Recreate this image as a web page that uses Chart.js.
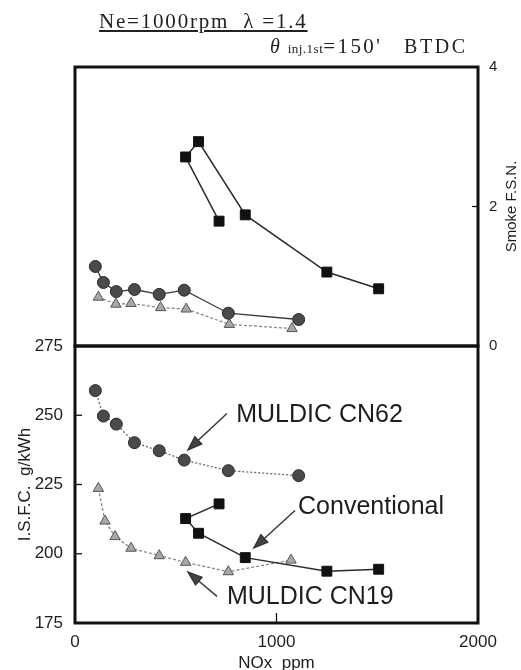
<!DOCTYPE html>
<html>
<head>
<meta charset="utf-8">
<script src="https://cdn.jsdelivr.net/npm/chart.js@4.4.1/dist/chart.umd.min.js"></script>
<style>
body{margin:0;background:#fff;}
#wrap{position:relative;width:521px;height:670px;overflow:hidden;background:#fff;}
#wrap canvas{position:absolute;left:0;top:0;}
.t{position:absolute;font-family:"Liberation Serif","DejaVu Serif",serif;color:#222;white-space:nowrap;}
</style>
</head>
<body>
<div id="wrap">
<canvas id="isfcChart" width="521" height="670"></canvas>
<canvas id="smokeChart" width="521" height="670"></canvas>
<div class="t" style="left:99px;top:9px;font-size:21px;letter-spacing:1.8px;text-decoration:underline;">Ne=1000rpm&nbsp;&nbsp;λ&nbsp;=1.4</div>
<div class="t" style="left:270px;top:34px;font-size:20px;letter-spacing:1.4px;"><i>θ</i>&nbsp;<span style="font-size:13px;letter-spacing:0.5px">inj.1st</span><span style="font-size:21px;letter-spacing:2.4px">=150</span>'<span style="letter-spacing:2.6px">&nbsp;&nbsp;&nbsp;BTDC</span></div>
</div>
<script>
(function () {

/* ---- data ---- */

// Conventional (same operating points in both panels)
const noxConv   = [715, 549, 613, 845, 1250, 1507];
const smokeConv = [1.79, 2.71, 2.93, 1.88, 1.06, 0.82];
const isfcConv  = [218.0, 212.7, 207.4, 198.6, 193.7, 194.4];

// MULDIC CN62
const noxCN62   = [101, 141, 205, 295, 418, 542, 761, 1110];
const smokeCN62 = [1.14, 0.91, 0.78, 0.81, 0.74, 0.80, 0.47, 0.38];
const isfcCN62  = [258.9, 249.7, 246.8, 240.1, 237.2, 233.8, 230.0, 228.2];

// MULDIC CN19
const noxCN19s  = [116, 203, 278, 425, 552, 766, 1077];
const smokeCN19 = [0.70, 0.60, 0.61, 0.55, 0.53, 0.31, 0.25];
const noxCN19   = [116, 149, 199, 278, 418, 549, 761, 1072];
const isfcCN19  = [223.6, 211.8, 206.2, 202.0, 199.3, 196.9, 193.5, 197.7];

const xTicks     = [0, 1000, 2000];
const smokeTicks = [0, 2, 4];
const isfcTicks  = [175, 200, 225, 250, 275];

function pts(xs, ys) {
  return xs.map((x, i) => ({x: x, y: ys[i]}));
}

const SANS = '"Liberation Sans", Arial, Helvetica, sans-serif';
const INK = '#1e1e1e';

/* ---- frame + inward tick marks ---- */

const frame = {
  id: 'frame',
  afterDraw(chart, args, opts) {
    const {ctx, chartArea: a, scales} = chart;
    ctx.save();
    ctx.strokeStyle = '#111';
    ctx.lineWidth = 3;
    ctx.strokeRect(a.left, a.top, a.right - a.left, a.bottom - a.top);
    ctx.lineWidth = 1.3;
    (opts.marks || []).forEach(m => {
      const s = scales[m.axis];
      m.values.forEach(v => {
        const p = s.getPixelForValue(v);
        ctx.beginPath();
        if (m.side === 'left') { ctx.moveTo(a.left, p); ctx.lineTo(a.left + m.len, p); }
        if (m.side === 'right') { ctx.moveTo(a.right, p); ctx.lineTo(a.right - m.len, p); }
        if (m.side === 'bottom') { ctx.moveTo(p, a.bottom); ctx.lineTo(p, a.bottom - m.len); }
        ctx.stroke();
      });
    });
    if (opts.rightTitle) {
      ctx.translate(opts.rightTitle.x, (a.top + a.bottom) / 2);
      ctx.rotate(-Math.PI / 2);
      ctx.font = '15px ' + SANS;
      ctx.fillStyle = INK;
      ctx.textAlign = 'center';
      ctx.textBaseline = 'middle';
      ctx.fillText(opts.rightTitle.text, 0, 0);
    }
    ctx.restore();
  }
};

/* ---- labels with arrows in the ISFC panel ---- */

const callouts = {
  id: 'callouts',
  afterDatasetsDraw(chart, args, opts) {
    const {ctx, scales: {x, y}} = chart;
    ctx.save();
    ctx.font = '25px ' + SANS;
    ctx.fillStyle = INK;
    ctx.strokeStyle = '#333';
    ctx.textBaseline = 'middle';
    opts.items.forEach(it => {
      ctx.fillText(it.text, x.getPixelForValue(it.at[0]), y.getPixelForValue(it.at[1]));
      const x1 = x.getPixelForValue(it.from[0]), y1 = y.getPixelForValue(it.from[1]);
      const x2 = x.getPixelForValue(it.to[0]),   y2 = y.getPixelForValue(it.to[1]);
      const ang = Math.atan2(y2 - y1, x2 - x1);
      const L = 14, W = 5;
      const bx = x2 - Math.cos(ang) * L, by = y2 - Math.sin(ang) * L;
      ctx.lineWidth = 1.4;
      ctx.beginPath();
      ctx.moveTo(x1, y1);
      ctx.lineTo(bx, by);
      ctx.stroke();
      ctx.beginPath();
      ctx.moveTo(x2, y2);
      ctx.lineTo(bx + Math.sin(ang) * W, by - Math.cos(ang) * W);
      ctx.lineTo(bx - Math.sin(ang) * W, by + Math.cos(ang) * W);
      ctx.closePath();
      ctx.fillStyle = '#444';
      ctx.fill();
      ctx.stroke();
      ctx.fillStyle = INK;
    });
    ctx.restore();
  }
};

/* ---- series styles ---- */

function convSet(data) {
  return {label: 'Conventional', data: data, showLine: true,
    borderColor: '#2a2a2a', borderWidth: 1.5,
    pointStyle: 'rect', pointRadius: 7, pointBackgroundColor: '#111', pointBorderColor: '#111', pointBorderWidth: 1};
}
function cn62Set(data, dash) {
  return {label: 'MULDIC CN62', data: data, showLine: true,
    borderColor: dash ? '#666' : '#3a3a3a', borderWidth: 1.3, borderDash: dash || [],
    pointStyle: 'circle', pointRadius: 6, pointBackgroundColor: '#4a4a4a', pointBorderColor: '#2a2a2a', pointBorderWidth: 1};
}
function cn19Set(data) {
  return {label: 'MULDIC CN19', data: data, showLine: true,
    borderColor: '#8a8a8a', borderWidth: 1.3, borderDash: [3, 2],
    pointStyle: 'triangle', pointRadius: 6, pointBackgroundColor: '#a8a8a8', pointBorderColor: '#555', pointBorderWidth: 1};
}

const tickFont = {family: SANS, size: 17};

/* ---- top: smoke ---- */

new Chart(document.getElementById('smokeChart'), {
  type: 'scatter',
  data: {datasets: [
    convSet(pts(noxConv, smokeConv)),
    cn62Set(pts(noxCN62, smokeCN62)),
    cn19Set(pts(noxCN19s, smokeCN19))
  ]},
  options: {
    responsive: false, animation: false,
    layout: {padding: {left: 75, top: 67, bottom: 324, right: 0}},
    plugins: {
      legend: {display: false}, tooltip: {enabled: false},
      frame: {marks: [{axis: 'y', side: 'right', values: [2], len: 6}],
              rightTitle: {text: 'Smoke F.S.N.', x: 512}}
    },
    scales: {
      x: {type: 'linear', min: 0, max: 2000, display: false},
      y: {type: 'linear', position: 'right', min: 0, max: 4,
        afterBuildTicks: s => { s.ticks = smokeTicks.map(v => ({value: v})); },
        ticks: {padding: 11, font: {family: SANS, size: 15}, color: INK},
        grid: {display: false, drawTicks: false}, border: {display: false},
        afterFit: s => { s.width = 43; }}
    }
  },
  plugins: [frame]
});

/* ---- bottom: ISFC ---- */

new Chart(document.getElementById('isfcChart'), {
  type: 'scatter',
  data: {datasets: [
    convSet(pts(noxConv, isfcConv)),
    cn62Set(pts(noxCN62, isfcCN62), [2, 2]),
    cn19Set(pts(noxCN19, isfcCN19))
  ]},
  options: {
    responsive: false, animation: false,
    layout: {padding: {left: 0, top: 346, bottom: 0, right: 43}},
    plugins: {
      legend: {display: false}, tooltip: {enabled: false},
      frame: {marks: [{axis: 'y', side: 'left', values: [200, 225, 250], len: 7},
                      {axis: 'x', side: 'bottom', values: [1000], len: 10}]},
      callouts: {items: [
        {text: 'MULDIC CN62', at: [800, 250.1], from: [754, 250.6], to: [561, 237.5]},
        {text: 'Conventional', at: [1107, 216.9], from: [1092, 215.6], to: [888, 202.1]},
        {text: 'MULDIC CN19', at: [754, 184.4], from: [705, 184.6], to: [561, 193.4]}
      ]}
    },
    scales: {
      x: {type: 'linear', min: 0, max: 2000,
        afterBuildTicks: s => { s.ticks = xTicks.map(v => ({value: v})); },
        ticks: {padding: 9, font: tickFont, color: INK, callback: v => String(v)},
        grid: {display: false, drawTicks: false}, border: {display: false},
        title: {display: true, text: 'NOx  ppm', color: INK, font: {family: SANS, size: 17, lineHeight: 0.8}, padding: {top: 0, bottom: 0}},
        afterFit: s => { s.height = 47; }},
      y: {type: 'linear', position: 'left', min: 175, max: 275,
        afterBuildTicks: s => { s.ticks = isfcTicks.map(v => ({value: v})); },
        ticks: {padding: 12, font: tickFont, color: INK},
        grid: {display: false, drawTicks: false}, border: {display: false},
        title: {display: true, text: 'I.S.F.C.  g/kWh', color: INK, font: {family: SANS, size: 17}, padding: {top: 15, bottom: 0}},
        afterFit: s => { s.width = 75; }}
    }
  },
  plugins: [frame, callouts]
});

})();
</script>
</body>
</html>
